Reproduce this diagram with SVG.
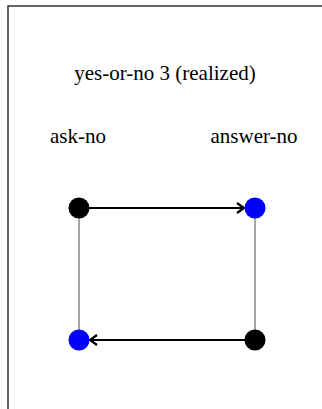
<svg xmlns="http://www.w3.org/2000/svg" width="322" height="409" viewBox="0 0 322 409">
<style>
text{font-family:"Liberation Serif","Times New Roman",serif;font-size:21px;fill:#000;text-anchor:middle}
.edge{stroke:#000;stroke-width:2;fill:none}
.link{stroke:#888;stroke-width:1.5;fill:none}
</style>
<defs>
<marker id="arr" markerWidth="10" markerHeight="12" refX="8" refY="6" orient="auto" markerUnits="userSpaceOnUse">
<path d="M1,1 L8,6 L1,11" fill="none" stroke="#000" stroke-width="2.2"/>
</marker>
</defs>
<rect x="8" y="6" width="330" height="420" fill="#fff" stroke="#333" stroke-width="1.5"/>
<text x="165" y="80">yes-or-no 3 (realized)</text>
<g id="labels">
<text x="78" y="143">ask-no</text>
<text x="254" y="143">answer-no</text>
</g>
<g id="connectors">
<line class="link" x1="79" y1="208" x2="79" y2="340"/>
<line class="link" x1="255" y1="208" x2="255" y2="340"/>
<line class="edge" x1="79" y1="208" x2="244" y2="208" marker-end="url(#arr)"/>
<line class="edge" x1="255" y1="340" x2="90" y2="340" marker-end="url(#arr)"/>
</g>
<g id="n1"><circle cx="79" cy="208" r="10.5" fill="#000"/></g>
<g id="n2"><circle cx="255" cy="208" r="10.5" fill="#0000ff"/></g>
<g id="n3"><circle cx="79" cy="340" r="10.5" fill="#0000ff"/></g>
<g id="n4"><circle cx="255" cy="340" r="10.5" fill="#000"/></g>
</svg>
